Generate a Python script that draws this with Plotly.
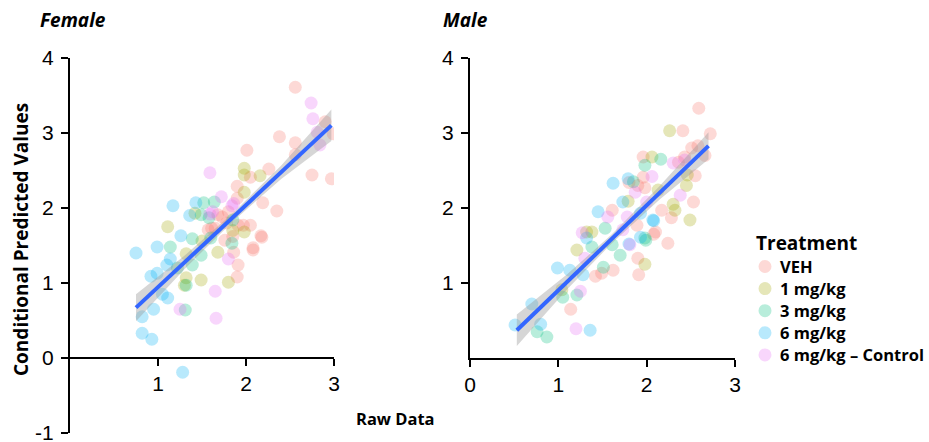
import plotly.graph_objects as go

groups = ["VEH", "1 mg/kg", "3 mg/kg", "6 mg/kg", "6 mg/kg – Control"]
colors = ["#F8766D", "#A3A500", "#00BF7D", "#00B0F6", "#E76BF3"]

# ---- Female panel (raw, predicted) ----
female_veh = [(2.56,3.61),(2.90,3.15),(2.99,2.99),(2.56,2.87),(2.38,2.95),(2.01,2.77),(2.56,2.71),(2.75,2.44),
              (2.97,2.39),(2.05,2.41),(2.26,2.52),(1.90,2.29),(2.19,2.07),(2.35,1.96),(1.73,1.88),(1.90,2.13),
              (1.65,1.73),(2.05,1.77),(2.17,1.63),(2.08,1.44),(1.91,1.24),(1.90,1.08),(1.86,1.41),(1.76,1.57),
              (1.57,1.71),(1.97,1.77),(1.68,1.91),(1.80,1.95),(1.78,1.80),(1.91,1.77),(1.61,1.73),(2.18,1.61),
              (2.08,1.47),(1.85,1.62)]
female_1 = [(1.98,2.53),(1.98,2.44),(2.16,2.43),(1.98,2.21),(1.42,1.93),(1.11,1.75),(1.32,1.39),(1.32,1.07),
            (1.49,1.04),(1.98,1.68),(1.80,1.01),(1.68,1.41),(1.30,0.97),(1.85,1.70),(1.50,1.56)]
female_3 = [(1.52,2.07),(1.64,2.08),(1.49,1.91),(1.39,1.59),(1.14,1.48),(1.39,1.24),(1.32,0.97),(1.31,0.64),
            (1.84,1.53),(1.49,1.37),(1.60,1.60),(1.22,1.20),(1.85,1.84),(1.58,1.87)]
female_6 = [(1.17,2.03),(1.43,2.07),(1.26,1.63),(0.75,1.40),(0.99,1.48),(1.14,1.32),(1.10,1.24),(0.92,1.09),
            (0.99,1.13),(1.11,0.80),(0.95,0.65),(0.82,0.55),(0.82,0.33),(0.93,0.25),(1.28,-0.19),(1.05,0.85),
            (1.36,1.90)]
female_ctrl = [(2.74,3.40),(2.76,3.19),(2.81,3.01),(2.84,2.84),(1.59,2.47),(1.72,2.15),(1.59,1.92),(1.84,2.03),
               (1.65,0.89),(1.25,0.65),(1.66,0.53),(1.80,1.32),(1.86,2.06),(1.62,1.95)]

# ---- Male panel ----
male_veh = [(2.59,3.33),(2.41,3.03),(2.72,2.99),(2.51,2.80),(2.58,2.83),(2.43,2.68),(2.36,2.61),(1.96,2.68),
            (1.96,2.41),(1.90,2.30),(1.98,2.27),(2.55,2.43),(2.53,2.08),(1.61,1.97),(2.17,1.97),(2.24,1.53),
            (2.08,1.65),(1.90,1.33),(1.91,1.11),(1.62,1.17),(1.42,1.09),(1.14,0.65),(1.89,1.77),(2.10,1.68),
            (2.28,1.87),(1.80,2.34),(2.66,2.70),(1.49,1.13)]
male_1 = [(2.26,3.03),(2.06,2.68),(2.46,2.44),(2.32,1.97),(2.30,2.05),(2.13,2.24),(1.79,2.09),(2.49,1.84),
          (1.98,1.25),(1.21,1.44),(1.04,0.91),(1.38,1.68),(1.32,1.68),(2.45,2.30)]
male_3 = [(2.16,2.65),(1.98,2.57),(1.85,2.35),(1.99,1.57),(1.70,1.37),(1.61,1.51),(1.53,1.73),(1.38,1.48),
          (1.51,1.21),(1.05,0.81),(1.21,0.84),(0.76,0.35),(0.87,0.28),(1.98,1.60)]
male_6 = [(1.62,2.33),(1.79,2.39),(1.73,2.08),(1.45,1.95),(2.08,1.83),(1.93,1.61),(1.32,1.60),(0.99,1.20),
          (1.13,1.17),(1.28,1.11),(0.70,0.72),(0.51,0.44),(0.80,0.45),(1.36,0.37),(1.93,1.93),(2.07,1.84),
          (1.80,1.52)]
male_ctrl = [(2.43,2.64),(2.06,2.42),(2.38,2.17),(1.87,2.21),(1.56,1.88),(1.81,1.51),(1.27,1.67),(1.30,1.33),
             (1.25,0.89),(1.20,0.39),(2.00,2.08),(1.78,1.88),(1.73,1.71),(2.30,2.60)]

# ---- Linear fits (intercept, slope) and confidence half-widths ----
female_fit = (-0.15, 1.095)
female_ci_x = [0.75, 1.3, 1.85, 2.4, 2.97]
female_ci_half = [0.18, 0.09, 0.055, 0.09, 0.21]
male_fit = (-0.23, 1.133)
male_ci_x = [0.53, 1.1, 1.6, 2.15, 2.70]
male_ci_half = [0.21, 0.10, 0.06, 0.09, 0.18]

x_ticks_female = [1, 2, 3]
y_ticks_female = [-1, 0, 1, 2, 3, 4]
x_ticks_male = [0, 1, 2, 3]
y_ticks_male = [1, 2, 3, 4]

W, H = 929, 442
ALPHA = 0.28
def px(v): return v / W
def py(v): return 1 - v / H
def rgba(hx, a):
    h = hx.lstrip("#")
    return "rgba(%d,%d,%d,%s)" % (int(h[0:2], 16), int(h[2:4], 16), int(h[4:6], 16), a)
def labels(vals): return [str(v) for v in vals]

fig = go.Figure()

panels = [
    ("x", "y", [female_veh, female_1, female_3, female_6, female_ctrl], female_fit, female_ci_x, female_ci_half),
    ("x2", "y2", [male_veh, male_1, male_3, male_6, male_ctrl], male_fit, male_ci_x, male_ci_half),
]
for xa, ya, sets, fit, cix, cih in panels:
    for g, c, pts in zip(groups, colors, sets):
        fig.add_trace(go.Scatter(
            x=[p[0] for p in pts], y=[p[1] for p in pts], mode="markers",
            marker=dict(color=c, size=13, opacity=ALPHA, line=dict(width=0)),
            name=g, showlegend=False, xaxis=xa, yaxis=ya))
    b0, b1 = fit
    fy = [b0 + b1 * x for x in cix]
    up = [f + h for f, h in zip(fy, cih)]
    lo = [f - h for f, h in zip(fy, cih)]
    fig.add_trace(go.Scatter(
        x=cix + cix[::-1], y=up + lo[::-1], fill="toself", mode="lines",
        line=dict(width=0), fillcolor="rgba(153,153,153,0.4)", hoverinfo="skip",
        showlegend=False, xaxis=xa, yaxis=ya))
    fig.add_trace(go.Scatter(
        x=[cix[0], cix[-1]], y=[fy[0], fy[-1]], mode="lines",
        line=dict(color="#3366FF", width=4), showlegend=False, xaxis=xa, yaxis=ya))

axis_common = dict(showline=True, linecolor="black", linewidth=2, ticks="outside", ticklen=7,
                   tickwidth=2, tickcolor="black", showgrid=False, zeroline=False,
                   ticklabeloverflow="allow", automargin=False,
                   tickfont=dict(family="Liberation Sans, Arial", size=21, color="black"))

fig.update_layout(
    width=W, height=H, autosize=False,
    margin=dict(l=0, r=0, t=0, b=0, pad=0, autoexpand=False),
    paper_bgcolor="white", plot_bgcolor="rgba(0,0,0,0)", showlegend=False,
    xaxis=dict(domain=[px(70), px(334)], range=[0, 3], tickvals=x_ticks_female,
               ticktext=labels(x_ticks_female), anchor="free", position=py(358), **axis_common),
    yaxis=dict(domain=[py(433), py(58)], range=[-1, 4], tickvals=y_ticks_female,
               ticktext=labels(y_ticks_female), anchor="x", ticklabelstandoff=3, **axis_common),
    xaxis2=dict(domain=[px(470), px(735)], range=[0, 3], tickvals=x_ticks_male,
                ticktext=labels(x_ticks_male), anchor="y2", **axis_common),
    yaxis2=dict(domain=[py(358), py(58)], range=[0, 4], tickvals=y_ticks_male,
                ticktext=labels(y_ticks_male), anchor="x2", ticklabelstandoff=3, **axis_common),
)

LF = "Open Sans"
def ann(x, y, text, size, xanchor="center", angle=0, color="black"):
    fig.add_annotation(x=px(x), y=py(y), xref="paper", yref="paper", xanchor=xanchor, yanchor="middle",
                       text=text, showarrow=False, textangle=angle,
                       font=dict(family=LF, size=size, color=color))

ann(38, 20, "<b><i>Female</i></b>", 19, xanchor="left")
ann(441, 20, "<b><i>Male</i></b>", 19, xanchor="left")
ann(21, 240, "<b>Conditional Predicted Values</b>", 19, angle=-90)
ann(395, 418, "<b>Raw Data</b>", 16.5)

# legend: key circles as shapes, labels as text
ann(754, 243, "<b>Treatment</b>", 19, xanchor="left")
R = 6.5
for i, (g, c) in enumerate(zip(groups, colors)):
    yy = 266.5 + i * 22.1
    fig.add_shape(type="circle", xref="paper", yref="paper",
                  x0=px(765 - R), x1=px(765 + R), y0=py(yy + R), y1=py(yy - R),
                  fillcolor=rgba(c, ALPHA), line=dict(width=0))
    ann(778, yy, "<b>%s</b>" % g, 16.5, xanchor="left")

fig.write_html("out.html")
